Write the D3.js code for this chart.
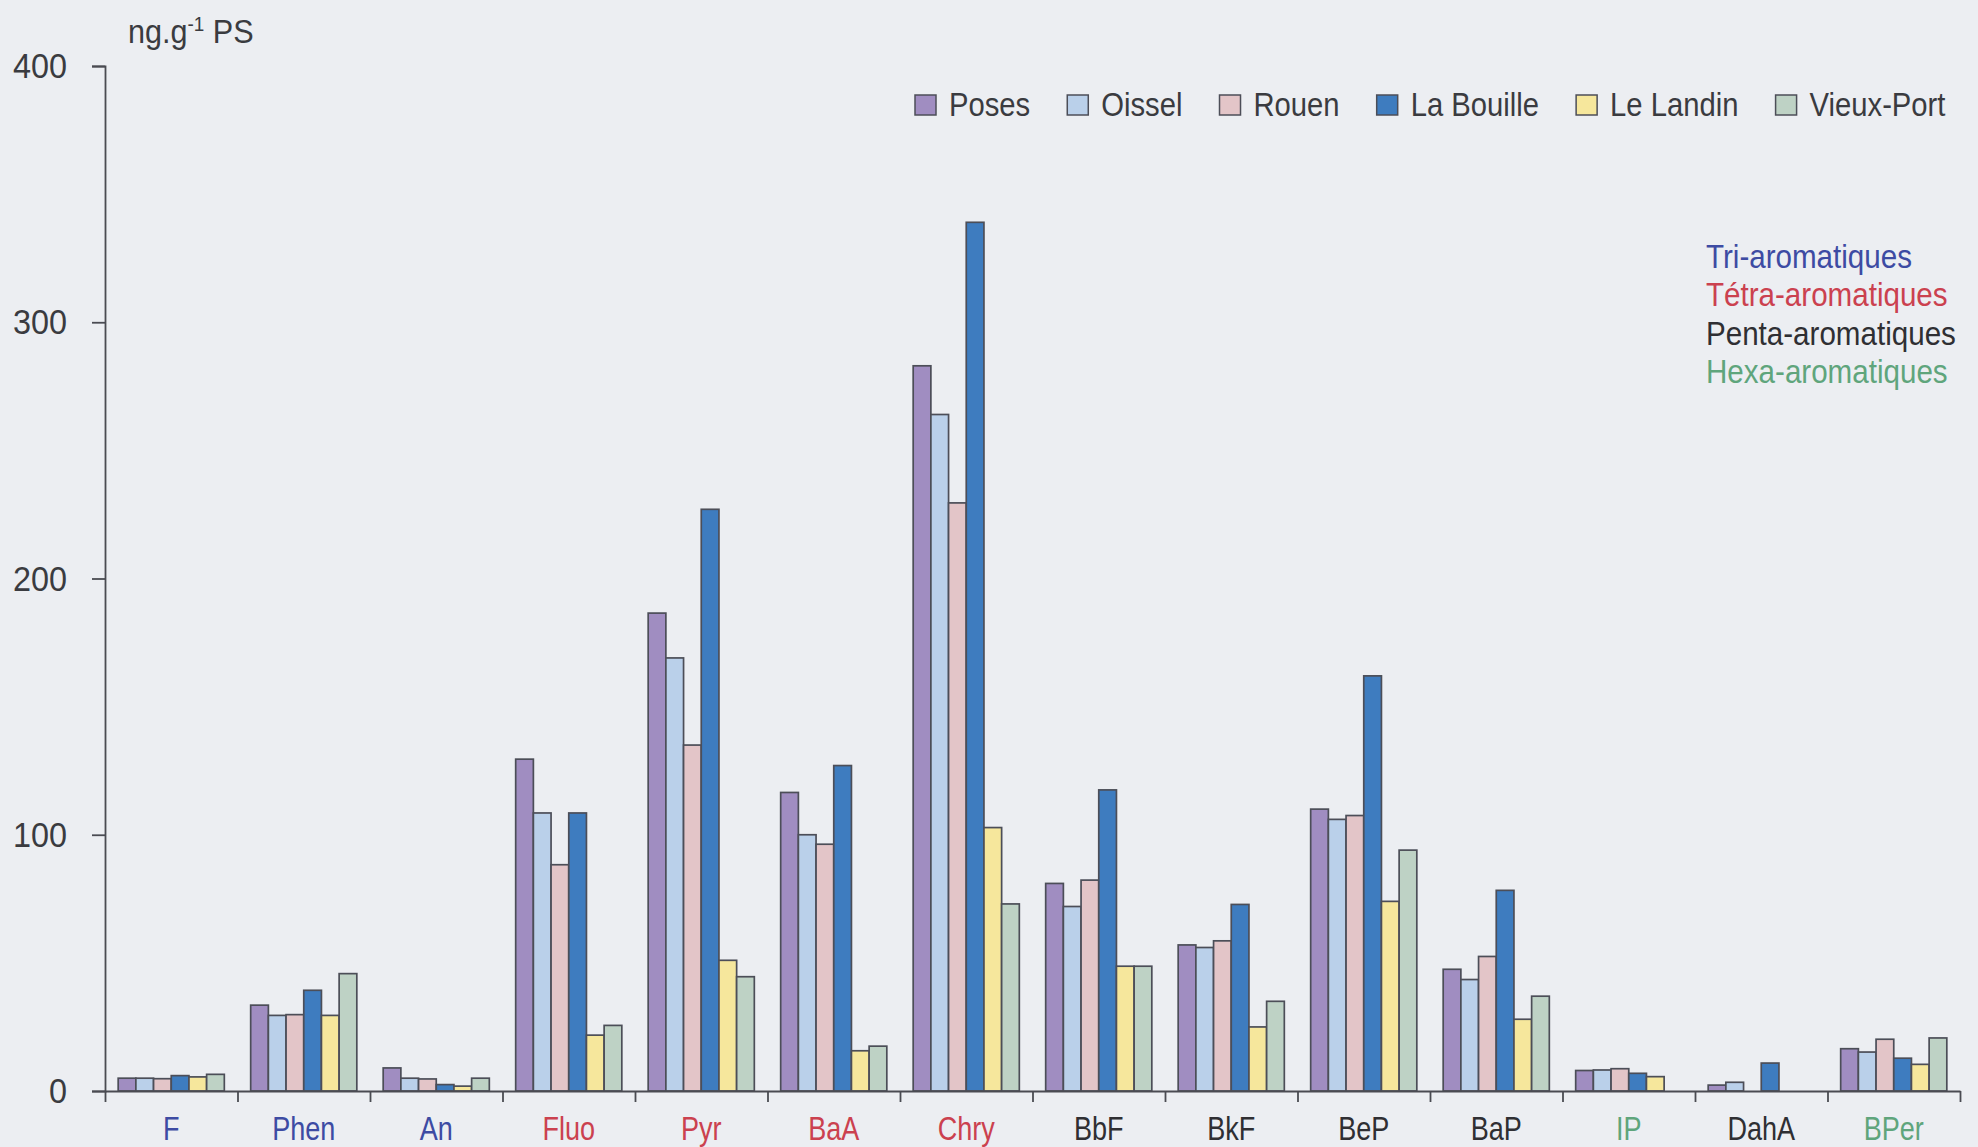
<!DOCTYPE html>
<html lang="fr">
<head>
<meta charset="utf-8">
<title>HAP – concentrations par site</title>
<script src="https://cdn.jsdelivr.net/npm/d3@7"></script>
<style>
  html, body { margin: 0; padding: 0; background: #eceef2; }
  svg { display: block; }
  text { font-family: "Liberation Sans", Arial, sans-serif; }
</style>
</head>
<body>
<svg id="chart" width="1978" height="1147"></svg>
<script>
// PAH compounds on the x axis, grouped by number of aromatic rings
const categories = ["F", "Phen", "An", "Fluo", "Pyr", "BaA", "Chry", "BbF", "BkF", "BeP", "BaP", "IP", "DahA", "BPer"];
const ringGroup  = ["tri", "tri", "tri", "tetra", "tetra", "tetra", "tetra", "penta", "penta", "penta", "penta", "hexa", "penta", "hexa"];

// Sampling sites (one bar per site in each compound group)
const sites = ["Poses", "Oissel", "Rouen", "La Bouille", "Le Landin", "Vieux-Port"];

// Concentrations, ng.g-1 dry weight (null = not detected)
const poses     = [5.0, 33.5, 9.0, 129.5, 186.5, 116.5, 283.0,  81.0, 57.0, 110.0, 47.5, 8.0, 2.3, 16.5];
const oissel    = [5.0, 29.5, 5.0, 108.5, 169.0, 100.0, 264.0,  72.0, 56.0, 106.0, 43.5, 8.2, 3.4, 15.2];
const rouen     = [4.8, 29.8, 4.7,  88.3, 135.0,  96.3, 229.5,  82.3, 58.6, 107.5, 52.5, 8.7, null, 20.2];
const laBouille = [6.0, 39.3, 2.5, 108.5, 227.0, 127.0, 339.0, 117.5, 72.8, 162.0, 78.3, 6.9, 10.9, 12.8];
const leLandin  = [5.5, 29.5, 1.9,  21.8,  51.0,  15.7, 102.8,  48.7, 25.0,  74.0, 28.0, 5.6, null, 10.4];
const vieuxPort = [6.5, 45.8, 5.0,  25.6,  44.6,  17.5,  73.0,  48.7, 35.0,  94.0, 37.0, null, null, 20.7];
const seriesValues = [poses, oissel, rouen, laBouille, leLandin, vieuxPort];

// Value axis
const yTicks = [0, 100, 200, 300, 400];
const yUnit = "ng.g";
const yUnitSup = "-1";
const yUnitTail = " PS";

// Ring-number legend
const groupKeys   = ["tri", "tetra", "penta", "hexa"];
const groupLabels = ["Tri-aromatiques", "Tétra-aromatiques", "Penta-aromatiques", "Hexa-aromatiques"];

// ---- styles ----
const siteColors  = ["#a08dc1", "#bad0ea", "#e3c5c8", "#3e7cbf", "#f6e79c", "#bed2c5"];
const groupColors = { tri: "#3d4ba3", tetra: "#cb414f", penta: "#2f2f33", hexa: "#5fa57c" };
const inkColor = "#4a4b52";
const textColor = "#3a3b40";

// condensed lettering: squeeze text horizontally around its anchor x
function narrow(sel, k) {
  sel.each(function () {
    const el = d3.select(this);
    const x0 = +(el.attr("x") || 0);
    el.attr("x", x0 / k).attr("transform", `scale(${k},1)`);
  });
}

const svg = d3.select("#chart");

const plotLeft = 105, plotRight = 1960;
const plotTop = 66, plotBottom = 1091;

const x = d3.scaleBand().domain(categories).range([plotLeft, plotRight]).paddingInner(0).paddingOuter(0);
const xSite = d3.scaleBand().domain(sites).range([0, x.bandwidth()]).paddingInner(0).paddingOuter(0.745);
const y = d3.scaleLinear().domain([0, 400]).range([plotBottom, plotTop]);

// Bars
const barData = [];
categories.forEach((c, i) => {
  sites.forEach((s, j) => {
    const v = seriesValues[j][i];
    if (v != null) barData.push({ cat: c, site: s, idx: j, value: v });
  });
});

svg.append("g")
  .selectAll("rect")
  .data(barData)
  .join("rect")
    .attr("x", d => x(d.cat) + xSite(d.site))
    .attr("y", d => y(d.value))
    .attr("width", xSite.bandwidth())
    .attr("height", d => y(0) - y(d.value))
    .attr("fill", d => siteColors[d.idx])
    .attr("stroke", "#4c4e58")
    .attr("stroke-width", 1.7);

// Category boundary ticks along the baseline
const xEdges = d3.scaleLinear().domain([0, categories.length]).range([plotLeft, plotRight]);
const edgeAxis = svg.append("g")
  .attr("transform", `translate(0,${plotBottom})`)
  .call(d3.axisBottom(xEdges).tickValues(d3.range(categories.length + 1)).tickFormat("").tickSize(11).tickSizeOuter(0));
edgeAxis.selectAll("path, line").attr("stroke", inkColor).attr("stroke-width", 1.8);

// Compound labels, coloured by ring group
const labelAxis = svg.append("g")
  .attr("transform", `translate(0,${plotBottom})`)
  .call(d3.axisBottom(x).tickSize(0));
labelAxis.select(".domain").remove();
labelAxis.selectAll("text")
  .attr("y", 49)
  .attr("dy", null)
  .attr("font-size", 33)
  .attr("font-family", "Liberation Sans, Arial, sans-serif")
  .attr("fill", d => groupColors[ringGroup[categories.indexOf(d)]])
  .call(narrow, 0.82);

// Value axis
const yAxis = svg.append("g")
  .attr("transform", `translate(${plotLeft},0)`)
  .call(d3.axisLeft(y).tickValues(yTicks).tickSize(13).tickPadding(25).tickFormat(d3.format("d")));
yAxis.selectAll("path, line").attr("stroke", inkColor).attr("stroke-width", 1.8);
yAxis.selectAll("text")
  .attr("font-size", 36)
  .attr("font-family", "Liberation Sans, Arial, sans-serif")
  .attr("fill", textColor)
  .call(narrow, 0.9);

// Unit
const unit = svg.append("text")
  .attr("x", 128).attr("y", 43)
  .attr("font-size", 34)
  .attr("fill", textColor);
unit.append("tspan").text(yUnit);
unit.append("tspan").text(yUnitSup).attr("font-size", 21).attr("dy", -12);
unit.append("tspan").text(yUnitTail).attr("dy", 12);
unit.call(narrow, 0.9);

// Site legend
const legendK = 0.86;
const legend = svg.append("g").attr("transform", "translate(915,0)");
let lx = 0;
sites.forEach((s, j) => {
  const item = legend.append("g").attr("transform", `translate(${lx},0)`);
  item.append("rect")
    .attr("x", 0).attr("y", 95).attr("width", 21).attr("height", 20)
    .attr("fill", siteColors[j]).attr("stroke", "#4c4e58").attr("stroke-width", 1.5);
  const t = item.append("text")
    .attr("x", 34).attr("y", 116)
    .attr("font-size", 34)
    .attr("fill", textColor)
    .text(s);
  const w = t.node().getComputedTextLength() * legendK;
  t.call(narrow, legendK);
  lx += 34 + w + 37;
});

// Ring-number legend
svg.append("g")
  .selectAll("text")
  .data(groupKeys)
  .join("text")
    .attr("x", 1706)
    .attr("y", (d, i) => 268 + i * 38.3)
    .attr("font-size", 34)
    .attr("fill", d => groupColors[d])
    .text((d, i) => groupLabels[i])
    .call(narrow, 0.87);
</script>
</body>
</html>
